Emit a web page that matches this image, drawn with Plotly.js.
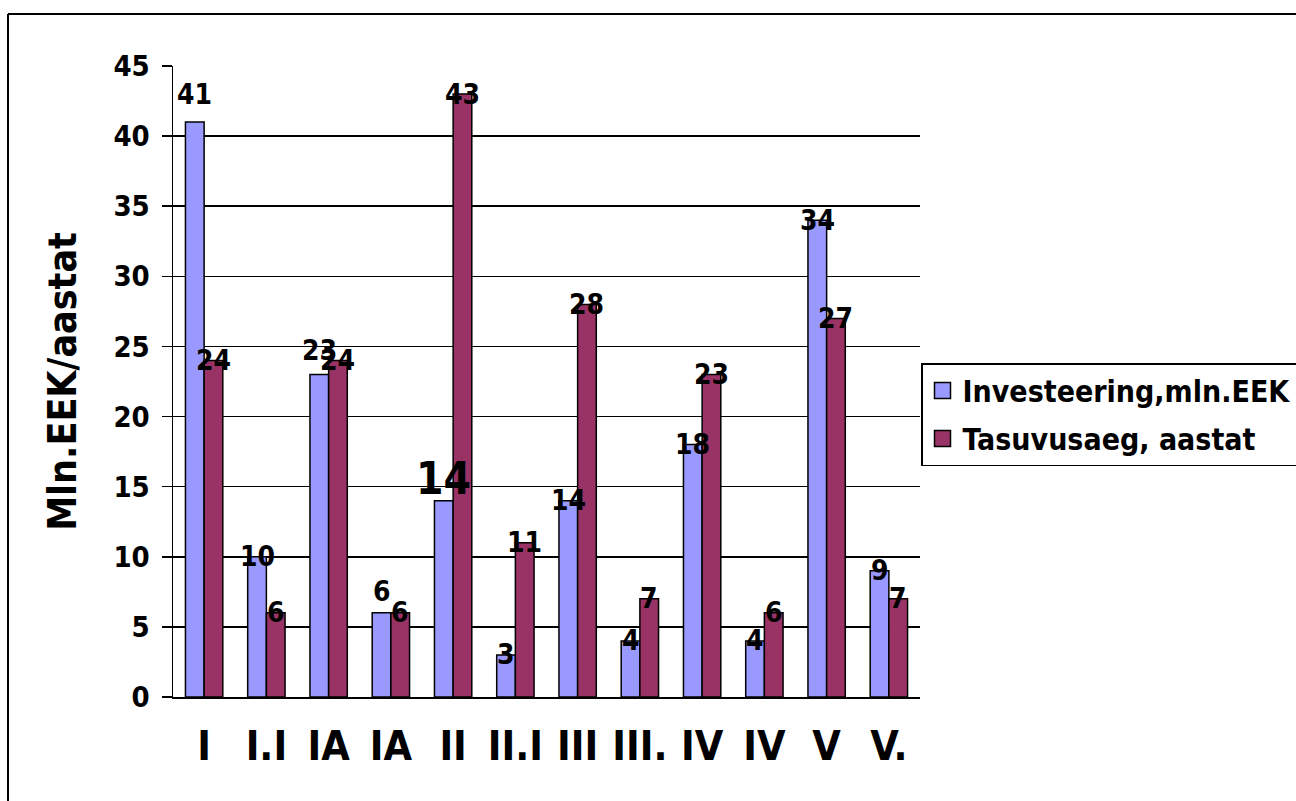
<!DOCTYPE html>
<html>
<head>
<meta charset="utf-8">
<script src="https://cdn.plot.ly/plotly-3.0.1.min.js"></script>
<style>
  html, body { margin: 0; padding: 0; background: #ffffff; }
  #chart { width: 1296px; height: 801px; }
</style>
</head>
<body>
<div id="chart"></div>
<script>
// Project stages (x-axis) and the two measured series
const stages = ["I", "I.I", "IA", "IA", "II", "II.I", "III", "III.", "IV", "IV", "V", "V."];
const investment = [41, 10, 23, 6, 14, 3, 14, 4, 18, 4, 34, 9];   // Investeering, mln.EEK
const payback = [24, 6, 24, 6, 43, 11, 28, 7, 23, 6, 27, 7];      // Tasuvusaeg, aastat
const seriesNames = ["Investeering,mln.EEK", "Tasuvusaeg, aastat"];
const yTicks = [0, 5, 10, 15, 20, 25, 30, 35, 40, 45];

// Label lift (px) for value labels that sit above their bar instead of on its top
const investLabelLift = [28, 0, 24, 21, 22, 0, 0, 0, 0, 0, 0, 0];
const investLabelSize = [28, 28, 28, 28, 44, 28, 28, 28, 28, 28, 28, 28];

const FONT = '"DejaVu Sans Condensed", "DejaVu Sans", sans-serif';
const BLUE = '#9999FF';
const PLUM = '#993366';

const idx = stages.map((_, i) => i);
const bargap = 0.4;
const half = (1 - bargap) / 4; // centre offset of each bar within its group

const barLine = { color: '#000000', width: 1.5 };

const traces = [
  { type: 'bar', x: idx, y: investment, name: seriesNames[0], showlegend: false,
    marker: { color: BLUE, line: barLine }, hoverinfo: 'y' },
  { type: 'bar', x: idx, y: payback, name: seriesNames[1], showlegend: false,
    marker: { color: PLUM, line: barLine }, hoverinfo: 'y' },
  // legend keys
  { type: 'scatter', mode: 'markers', x: [null], y: [null], name: seriesNames[0],
    legendgroup: 'a', marker: { symbol: 'square', size: 16, color: BLUE, line: { color: '#000', width: 1.5 } } },
  { type: 'scatter', mode: 'markers', x: [null], y: [null], name: seriesNames[1],
    legendgroup: 'b', marker: { symbol: 'square', size: 16, color: PLUM, line: { color: '#000', width: 1.5 } } }
];

const annotations = [];
idx.forEach(i => {
  annotations.push({
    x: i - half, y: investment[i], xref: 'x', yref: 'y', text: String(investment[i]),
    showarrow: false, yanchor: 'middle', yshift: investLabelLift[i],
    font: { family: FONT, size: investLabelSize[i], color: '#000', weight: 'bold' }
  });
  annotations.push({
    x: i + half, y: payback[i], xref: 'x', yref: 'y', text: String(payback[i]),
    showarrow: false, yanchor: 'middle',
    font: { family: FONT, size: 28, color: '#000', weight: 'bold' }
  });
});

// plot area geometry in pixels, used for the outer frame and the legend box
const W = 1296, H = 801, mL = 173, mR = 376, mT = 66, mB = 104;
const pw = W - mL - mR, ph = H - mT - mB;
const frameX = (8 - mL) / pw;
const frameY = (H - mB - 14) / ph;

const layout = {
  width: W, height: H,
  margin: { l: mL, r: mR, t: mT, b: mB, pad: 0, autoexpand: false },
  paper_bgcolor: '#ffffff', plot_bgcolor: '#ffffff',
  barmode: 'group', bargap: bargap, bargroupgap: 0,
  font: { family: FONT, color: '#000', weight: 'bold' },
  showlegend: true,
  legend: {
    x: (921 - mL) / pw, xanchor: 'left', y: (H - mB - 363) / ph, yanchor: 'top',
    bordercolor: '#000', borderwidth: 1.5, bgcolor: '#ffffff',
    font: { family: FONT, size: 30, color: '#000', weight: 'bold' },
    traceorder: 'grouped', tracegroupgap: 6, itemclick: false
  },
  xaxis: {
    range: [-0.5, stages.length - 0.5], tickvals: idx, ticktext: stages,
    ticks: '', showgrid: false, zeroline: false,
    showline: true, linecolor: '#000', linewidth: 1.5,
    tickfont: { family: FONT, size: 41, color: '#000', weight: 'bold' },
    ticklabelstandoff: 12, fixedrange: true
  },
  xaxis2: {
    overlaying: 'x', anchor: 'y', side: 'bottom', matches: 'x',
    range: [-0.5, stages.length - 0.5],
    tickvals: idx.concat([stages.length]).map(v => v - 0.5),
    ticks: 'outside', ticklen: 8, tickwidth: 1.5, tickcolor: '#000',
    showticklabels: false, showgrid: false, zeroline: false, showline: false
  },
  yaxis: {
    range: [0, 45], tickvals: yTicks, ticks: 'outside', ticklen: 10, tickwidth: 1.5, tickcolor: '#000',
    showgrid: true, gridcolor: '#000', gridwidth: 1.5, zeroline: false,
    showline: true, linecolor: '#000', linewidth: 1.5,
    tickfont: { family: FONT, size: 29, color: '#000', weight: 'bold' },
    ticklabelstandoff: 6,
    title: { text: 'Mln.EEK/aastat', standoff: 24,
      font: { family: FONT, size: 39, color: '#000', weight: 'bold' } },
    fixedrange: true
  },
  annotations: annotations,
  shapes: [
    { type: 'line', xref: 'paper', yref: 'paper', x0: frameX, x1: frameX, y0: -1, y1: frameY,
      line: { color: '#000', width: 2 } },
    { type: 'line', xref: 'paper', yref: 'paper', x0: frameX, x1: 3, y0: frameY, y1: frameY,
      line: { color: '#000', width: 2 } }
  ]
};

Plotly.newPlot('chart', traces, layout, { displayModeBar: false, staticPlot: true });
</script>
</body>
</html>
